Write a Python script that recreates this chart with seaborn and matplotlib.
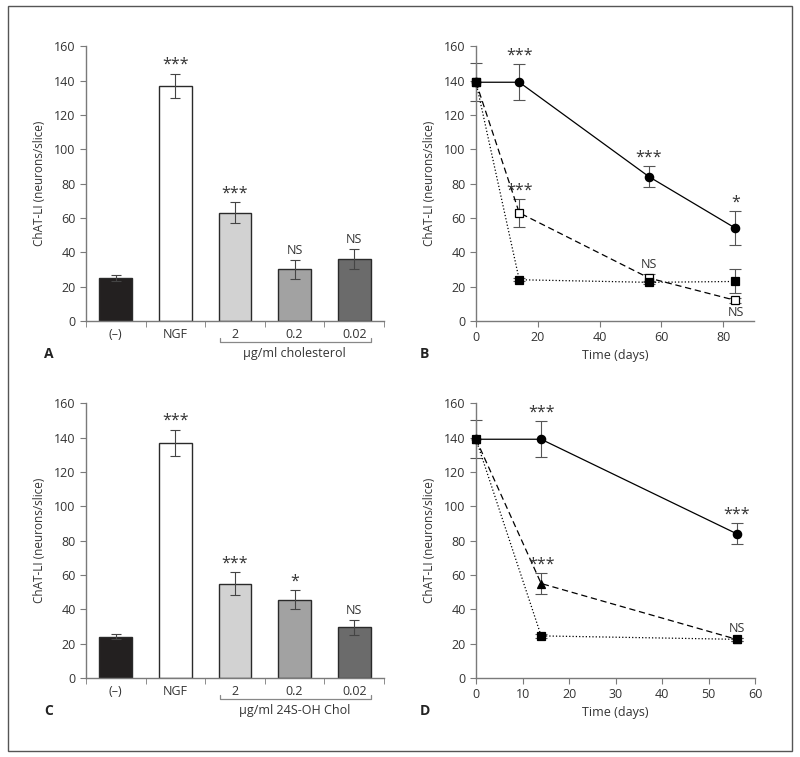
import numpy as np
import pandas as pd
import seaborn as sns
import matplotlib.pyplot as plt
from matplotlib.patches import Rectangle
import matplotlib.transforms as mtransforms

# -----------------------------
# data
# -----------------------------
bar_labels = ['(–)', 'NGF', '2', '0.2', '0.02']
bar_colors = ['#231f20', '#ffffff', '#d2d2d2', '#a2a2a2', '#6b6b6b']

chol_means = [25, 137, 63, 30, 36]
chol_err = [2, 7, 6, 5.5, 6]
chol_sig = ['', '***', '***', 'NS', 'NS']

oh_means = [24, 137, 55, 45.5, 29.5]
oh_err = [1.5, 7.5, 6.5, 5.5, 4.5]
oh_sig = ['', '***', '***', '*', 'NS']

days_b = [0, 14, 56, 84]
b_circle = [139, 139, 84, 54]
b_circle_err = [11, 10.5, 6, 10]
b_circle_sig = ['', '***', '***', '*']
b_open = [139, 63, 25, 12]
b_open_err = [11, 8, 2.5, 1.5]
b_open_sig = ['', '***', 'NS', 'NS']
b_fill = [139, 24, 22.5, 23]
b_fill_err = [11, 1, 1, 7]

days_d = [0, 14, 56]
d_circle = [139, 139, 84]
d_circle_err = [11, 10.5, 6]
d_circle_sig = ['', '***', '***']
d_tri = [139, 55, 22.5]
d_tri_err = [11, 6, 1]
d_tri_sig = ['', '***', 'NS']
d_fill = [139, 24.5, 22.5]
d_fill_err = [11, 1, 1]

sns.set_style('ticks')
plt.rcParams['font.family'] = ['Open Sans', 'DejaVu Sans']
plt.rcParams['font.size'] = 9

SPINE = '#7a7a7a'
TXT = '#333333'

fig = plt.figure(figsize=(8, 7.57), dpi=100)
fig.patches.append(Rectangle((0.01, 0.008), 0.98, 0.984, transform=fig.transFigure,
                             fill=False, edgecolor='#555555', linewidth=1))


def sig_size(s):
    # the asterisks are set larger than the NS labels
    return 11.5 if s.startswith('*') else 9


def style_axes(ax):
    sns.despine(ax=ax)
    for s in ['left', 'bottom']:
        ax.spines[s].set_color(SPINE)
        ax.spines[s].set_linewidth(1)
    ax.tick_params(which='both', color=SPINE, direction='out', labelcolor=TXT, labelsize=9)
    ax.tick_params(which='major', length=4)
    ax.set_ylim(0, 160)
    ax.set_yticks(range(0, 161, 20))
    ax.set_ylabel('ChAT-LI (neurons/slice)', color=TXT, fontsize=8.5, labelpad=6)


def bar_panel(ax, means, err, sig, group_text, letter, lx, ly):
    df = pd.DataFrame({'grp': bar_labels, 'val': means})
    sns.barplot(data=df, x='grp', y='val', hue='grp', palette=bar_colors, legend=False,
                order=bar_labels, width=0.55, edgecolor='#2a2a2a', linewidth=1, ax=ax)
    ax.errorbar(range(5), means, yerr=err, fmt='none', ecolor='#444444', elinewidth=0.8,
                capsize=3.5, capthick=0.8)
    for i, s in enumerate(sig):
        if s:
            ax.text(i, means[i] + err[i] + (0.5 if s.startswith('*') else 1.5), s, ha='center',
                    va='bottom', color=TXT, fontsize=sig_size(s))
    style_axes(ax)
    ax.set_xlim(-0.5, 4.5)
    ax.set_xlabel('')
    ax.set_xticks(range(5))
    ax.set_xticklabels(bar_labels)
    ax.tick_params(axis='x', which='major', length=0, pad=5)
    ax.set_xticks(np.arange(-0.5, 5, 1), minor=True)
    ax.tick_params(axis='x', which='minor', length=4)
    # bracket under the dose groups
    tr = mtransforms.blended_transform_factory(ax.transData, ax.transAxes)
    ax.plot([1.74, 1.74, 4.29, 4.29], [-0.063, -0.075, -0.075, -0.063], color='#888888',
            lw=0.9, transform=tr, clip_on=False)
    ax.text(3.0, -0.095, group_text, ha='center', va='top', transform=tr, color=TXT, fontsize=9)
    fig.text(lx, ly, letter, fontweight='bold', fontsize=10, color='#222222')


def err_and_sig(ax, x, y, e, sig=None, below=()):
    ax.errorbar(x, y, yerr=e, fmt='none', ecolor='#555555', elinewidth=0.8, capsize=4, capthick=0.8,
                zorder=2, clip_on=False)
    if sig:
        for i, s in enumerate(sig):
            if not s:
                continue
            if i in below:
                ax.text(x[i], y[i] - e[i] - 1.5, s, ha='center', va='top', color=TXT,
                        fontsize=sig_size(s))
            else:
                ax.text(x[i], y[i] + e[i] + (0.5 if s.startswith('*') else 1.5), s, ha='center',
                        va='bottom', color=TXT, fontsize=sig_size(s))


def line(ax, x, y, ls, marker, face, size=6):
    sns.lineplot(x=x, y=y, ax=ax, color='k', linestyle=ls, linewidth=0.9, marker=marker,
                 markersize=size, markerfacecolor=face, markeredgecolor='k', markeredgewidth=0.9,
                 zorder=3, clip_on=False)


# A
axA = fig.add_axes([0.1075, 0.576, 0.3725, 0.363])
bar_panel(axA, chol_means, chol_err, chol_sig, 'µg/ml cholesterol', 'A', 0.055, 0.527)

# C
axC = fig.add_axes([0.1075, 0.1044, 0.3725, 0.363])
bar_panel(axC, oh_means, oh_err, oh_sig, 'µg/ml 24S-OH Chol', 'C', 0.055, 0.056)

# B
axB = fig.add_axes([0.595, 0.576, 0.3475, 0.363])
line(axB, days_b, b_circle, '-', 'o', 'k')
line(axB, days_b, b_open, (0, (5, 3)), 's', 'white')
line(axB, days_b, b_fill, ':', 's', 'k')
err_and_sig(axB, days_b, b_circle, b_circle_err, b_circle_sig)
err_and_sig(axB, days_b[1:], b_open[1:], b_open_err[1:], b_open_sig[1:], below=(2,))
err_and_sig(axB, days_b[1:], b_fill[1:], b_fill_err[1:])
style_axes(axB)
axB.set_xlim(0, 90)
axB.set_xticks(range(0, 81, 20))
axB.set_xlabel('Time (days)', color=TXT, fontsize=9, labelpad=3)
fig.text(0.525, 0.527, 'B', fontweight='bold', fontsize=10, color='#222222')

# D
axD = fig.add_axes([0.595, 0.1044, 0.349, 0.363])
line(axD, days_d, d_circle, '-', 'o', 'k')
line(axD, days_d, d_tri, (0, (5, 3)), '^', 'k')
line(axD, days_d, d_fill, ':', 's', 'k')
err_and_sig(axD, days_d, d_circle, d_circle_err, d_circle_sig)
err_and_sig(axD, days_d[1:], d_tri[1:], d_tri_err[1:], d_tri_sig[1:])
err_and_sig(axD, days_d[1:], d_fill[1:], d_fill_err[1:])
style_axes(axD)
axD.set_xlim(0, 60)
axD.set_xticks(range(0, 61, 10))
axD.set_xlabel('Time (days)', color=TXT, fontsize=9, labelpad=3)
fig.text(0.525, 0.056, 'D', fontweight='bold', fontsize=10, color='#222222')

fig.savefig('out.png', dpi=100)
